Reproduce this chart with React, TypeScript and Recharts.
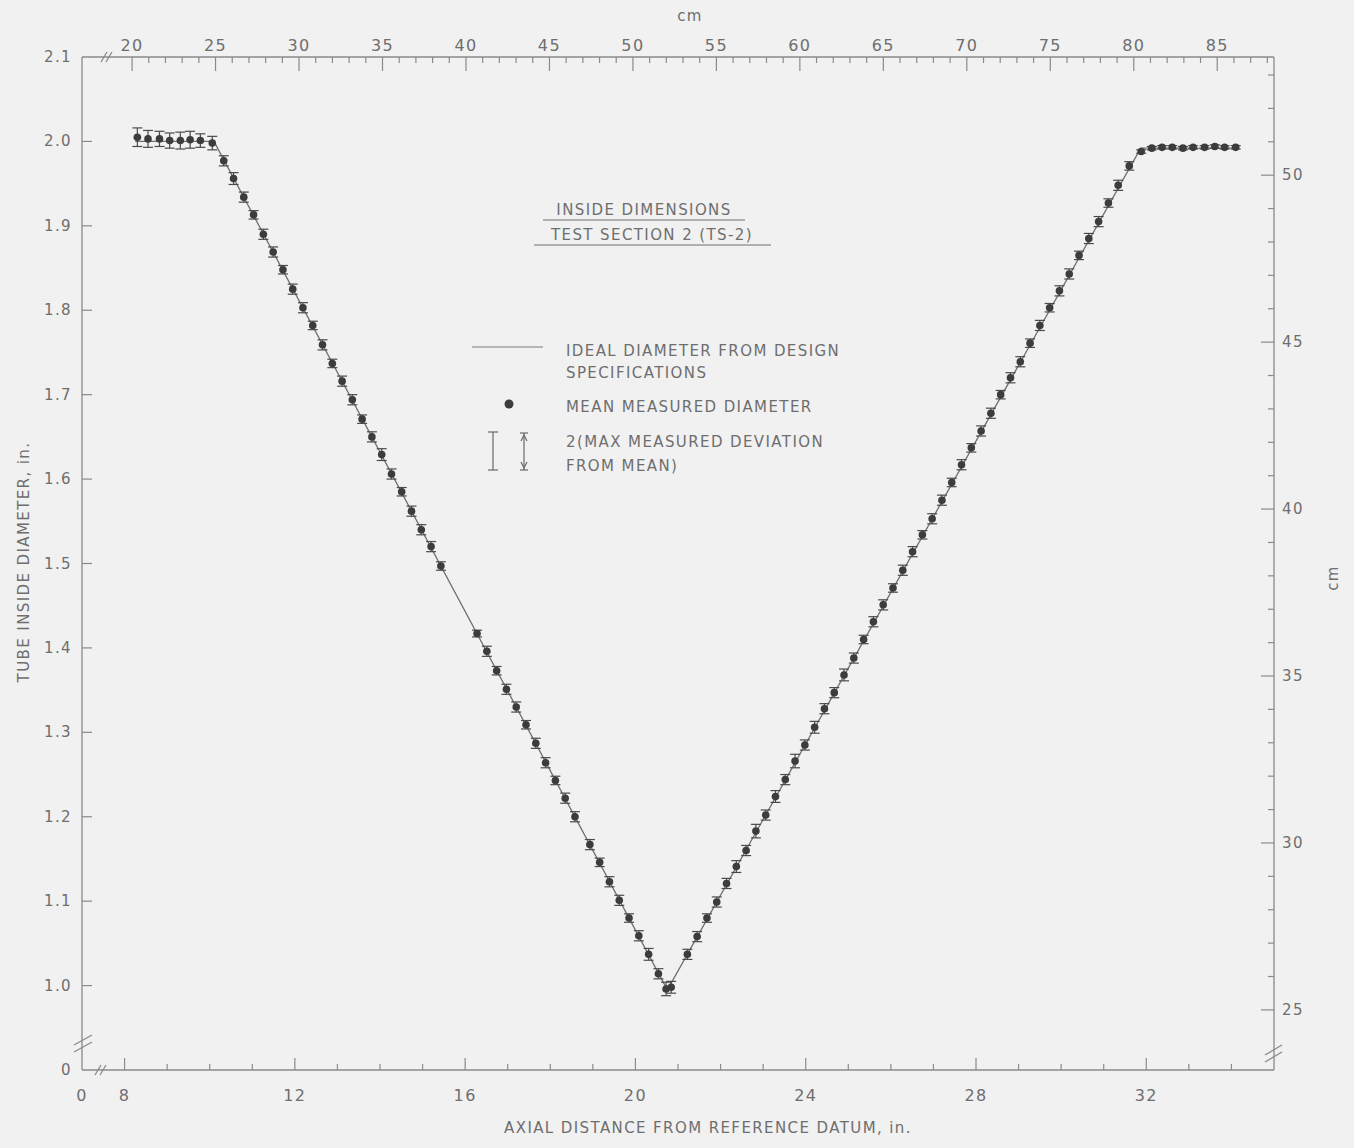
import { ComposedChart, Line, Scatter, ErrorBar, XAxis, YAxis } from 'recharts';

// Design profile of the tube bore (inches)
const idealAxial = [8.25, 10.1, 20.75, 31.87, 34.1];
const idealDiameter = [2.0, 2.0, 0.995, 1.992, 1.992];

// Mean measured diameter at each station (inches)
const measuredAxial = [
  8.3, 8.55, 8.82, 9.06, 9.31, 9.54, 9.78, 10.06,
  10.33, 10.56, 10.8, 11.03, 11.26, 11.49, 11.72, 11.95, 12.19, 12.42,
  12.65, 12.88, 13.11, 13.35, 13.58, 13.81, 14.04, 14.27, 14.51, 14.74,
  14.97, 15.2, 15.43, 16.28, 16.51, 16.74, 16.97, 17.2, 17.43, 17.66,
  17.89, 18.12, 18.35, 18.58, 18.93, 19.16, 19.39, 19.62, 19.85, 20.08,
  20.31, 20.54, 20.72, 20.84,
  21.22, 21.45, 21.68, 21.91, 22.14, 22.37, 22.6, 22.83, 23.06, 23.29,
  23.52, 23.75, 23.98, 24.21, 24.44, 24.67, 24.9, 25.13, 25.36, 25.59,
  25.82, 26.05, 26.28, 26.51, 26.74, 26.97, 27.2, 27.43, 27.66, 27.89,
  28.12, 28.35, 28.58, 28.81, 29.04, 29.27, 29.5, 29.73, 29.96, 30.19,
  30.42, 30.65, 30.88, 31.11, 31.34, 31.6,
  31.88, 32.13, 32.37, 32.61, 32.86, 33.1, 33.37, 33.61, 33.84, 34.1,
];
const measuredDiameter = [
  2.005, 2.003, 2.003, 2.001, 2.001, 2.002, 2.001, 1.998,
  1.977, 1.956, 1.934, 1.913, 1.89, 1.869, 1.848, 1.825, 1.803, 1.782,
  1.759, 1.737, 1.716, 1.694, 1.671, 1.65, 1.629, 1.606, 1.585, 1.562,
  1.54, 1.52, 1.497, 1.417, 1.396, 1.373, 1.351, 1.33, 1.309, 1.287,
  1.264, 1.243, 1.222, 1.2, 1.167, 1.146, 1.123, 1.101, 1.08, 1.059,
  1.037, 1.014, 0.996, 0.998,
  1.037, 1.058, 1.08, 1.099, 1.121, 1.141, 1.16, 1.183, 1.202, 1.224,
  1.244, 1.266, 1.285, 1.306, 1.328, 1.347, 1.368, 1.388, 1.41, 1.431,
  1.451, 1.471, 1.492, 1.514, 1.534, 1.553, 1.575, 1.596, 1.617, 1.637,
  1.657, 1.678, 1.7, 1.72, 1.739, 1.761, 1.782, 1.803, 1.823, 1.843,
  1.865, 1.885, 1.905, 1.927, 1.948, 1.971,
  1.988, 1.992, 1.993, 1.993, 1.992, 1.993, 1.993, 1.994, 1.993, 1.993,
];
// Max deviation from the mean at each station (inches)
const measuredDeviation = [
  0.011, 0.01, 0.009, 0.009, 0.01, 0.01, 0.008, 0.008,
  0.006, 0.007, 0.006, 0.005, 0.006, 0.006, 0.005, 0.006, 0.006, 0.005,
  0.006, 0.005, 0.006, 0.006, 0.005, 0.006, 0.007, 0.006, 0.005, 0.006,
  0.006, 0.006, 0.005, 0.004, 0.006, 0.005, 0.006, 0.006, 0.005, 0.006,
  0.006, 0.005, 0.006, 0.006, 0.006, 0.005, 0.006, 0.006, 0.005, 0.006,
  0.007, 0.006, 0.008, 0.007,
  0.006, 0.006, 0.005, 0.006, 0.006, 0.007, 0.006, 0.008, 0.006, 0.007,
  0.006, 0.008, 0.006, 0.007, 0.006, 0.006, 0.007, 0.006, 0.005, 0.006,
  0.006, 0.005, 0.006, 0.006, 0.005, 0.006, 0.006, 0.005, 0.006, 0.005,
  0.006, 0.006, 0.005, 0.006, 0.006, 0.005, 0.006, 0.005, 0.006, 0.006,
  0.005, 0.006, 0.006, 0.005, 0.006, 0.005,
  0.002, 0.002, 0.002, 0.002, 0.002, 0.002, 0.002, 0.002, 0.002, 0.002,
];

// Axis ticks; 7 in and 0.9 in sit at the broken origin and read "0"
const axialTicksIn = [7, 8, 9, 10, 11, 12, 13, 14, 15, 16, 17, 18, 19, 20, 21, 22, 23, 24, 25, 26, 27, 28, 29, 30, 31, 32, 33, 34];
const axialTicksCm = [
  20, 21, 22, 23, 24, 25, 26, 27, 28, 29, 30, 31, 32, 33, 34, 35, 36, 37, 38, 39, 40, 41, 42, 43, 44, 45, 46, 47, 48, 49,
  50, 51, 52, 53, 54, 55, 56, 57, 58, 59, 60, 61, 62, 63, 64, 65, 66, 67, 68, 69, 70, 71, 72, 73, 74, 75, 76, 77, 78, 79,
  80, 81, 82, 83, 84, 85, 86, 87, 88,
];
const diameterTicksIn = [0.9, 1.0, 1.1, 1.2, 1.3, 1.4, 1.5, 1.6, 1.7, 1.8, 1.9, 2.0, 2.1];
const diameterTicksMm = [25, 26, 27, 28, 29, 30, 31, 32, 33, 34, 35, 36, 37, 38, 39, 40, 41, 42, 43, 44, 45, 46, 47, 48, 49, 50, 51, 52, 53];

const ideal = idealAxial.map((x, i) => ({ x, d: idealDiameter[i] }));
const measured = measuredAxial.map((x, i) => ({ x, d: measuredDiameter[i], dev: measuredDeviation[i] }));

const toCm = (p: any) => p.x * 2.54;

const INK = '#8a8a8a';
const TEXT = '#6e6e6e';
const FONT = '"DejaVu Sans", "Liberation Sans", sans-serif';

const labelStyle = { fontFamily: FONT, fontSize: 15, fill: TEXT, letterSpacing: 1.4 };

function BottomTick(props: any) {
  const { x, y, payload } = props;
  const v = payload.value;
  if (v === 7) {
    return (
      <text x={x} y={y + 31} textAnchor="middle" style={{ ...labelStyle, fontSize: 16 }}>0</text>
    );
  }
  const major = v % 4 === 0;
  return (
    <g>
      <line x1={x} y1={y} x2={x} y2={y - (major ? 12 : 6)} stroke={INK} strokeWidth={1.2} />
      {major && (
        <text x={x} y={y + 31} textAnchor="middle" style={{ ...labelStyle, fontSize: 16 }}>{v}</text>
      )}
    </g>
  );
}

function TopTick(props: any) {
  const { x, y, payload } = props;
  const v = payload.value;
  const major = v % 5 === 0;
  return (
    <g>
      <line x1={x} y1={y} x2={x} y2={y + (major ? 14 : 6)} stroke={INK} strokeWidth={1.2} />
      {major && (
        <text x={x} y={y - 6} textAnchor="middle" style={{ ...labelStyle, fontSize: 16 }}>{v}</text>
      )}
    </g>
  );
}

function LeftTick(props: any) {
  const { x, y, payload } = props;
  const k = Math.round(payload.value * 10);
  const label = k === 9 ? '0' : (k / 10).toFixed(1);
  return (
    <g>
      {k > 9 && k < 21 && <line x1={x} y1={y} x2={x + 10} y2={y} stroke={INK} strokeWidth={1.2} />}
      <text x={x - 10} y={y + 5} textAnchor="end" style={labelStyle}>{label}</text>
    </g>
  );
}

function RightTick(props: any) {
  const { x, y, payload } = props;
  const v = payload.value;
  const major = v % 5 === 0;
  return (
    <g>
      <line x1={x} y1={y} x2={x - (major ? 13 : 6)} y2={y} stroke={INK} strokeWidth={1.2} />
      {major && (
        <text x={x + 8} y={y + 5} textAnchor="start" style={labelStyle}>{v}</text>
      )}
    </g>
  );
}

const Dot = (props: any) => <circle cx={props.cx} cy={props.cy} r={3.8} fill="#3c3c3c" />;

function Overlay() {
  const brk = { stroke: INK, strokeWidth: 1.3 };
  return (
    <svg width={1354} height={1148} style={{ position: 'absolute', left: 0, top: 0, pointerEvents: 'none' }}>
      {/* axis titles */}
      <text x={690} y={21} textAnchor="middle" style={labelStyle}>cm</text>
      <text x={708} y={1133} textAnchor="middle" style={labelStyle}>AXIAL DISTANCE FROM REFERENCE DATUM, in.</text>
      <text x={29} y={562} textAnchor="middle" transform="rotate(-90 29 562)" style={labelStyle}>TUBE INSIDE DIAMETER, in.</text>
      <text x={1338} y={578} textAnchor="middle" transform="rotate(-90 1338 578)" style={labelStyle}>cm</text>

      {/* title */}
      <text x={644} y={215} textAnchor="middle" style={labelStyle}>INSIDE DIMENSIONS</text>
      <line x1={543} y1={220} x2={745} y2={220} stroke={TEXT} strokeWidth={1} />
      <text x={652} y={240} textAnchor="middle" style={labelStyle}>TEST SECTION 2 (TS-2)</text>
      <line x1={534} y1={245} x2={771} y2={245} stroke={TEXT} strokeWidth={1} />

      {/* legend */}
      <line x1={472} y1={347} x2={543} y2={347} stroke="#7a7a7a" strokeWidth={1.2} />
      <text x={566} y={356} style={labelStyle}>IDEAL DIAMETER FROM DESIGN</text>
      <text x={566} y={378} style={labelStyle}>SPECIFICATIONS</text>
      <circle cx={509} cy={404} r={4.5} fill="#3c3c3c" />
      <text x={566} y={412} style={labelStyle}>MEAN MEASURED DIAMETER</text>
      <g stroke="#6a6a6a" strokeWidth={1.2}>
        <line x1={493} y1={432} x2={493} y2={470} />
        <line x1={488} y1={432} x2={498} y2={432} />
        <line x1={488} y1={470} x2={498} y2={470} />
        <line x1={524} y1={433} x2={524} y2={470} />
        <line x1={520} y1={433} x2={528} y2={433} />
        <line x1={520} y1={470} x2={528} y2={470} />
        <path d="M521 441 L524 435 L527 441 M521 462 L524 468 L527 462" fill="none" />
      </g>
      <text x={566} y={447} style={labelStyle}>2(MAX MEASURED DEVIATION</text>
      <text x={566} y={471} style={labelStyle}>FROM MEAN)</text>

      {/* scale breaks */}
      <line x1={101} y1={62} x2={107} y2={52} {...brk} />
      <line x1={106} y1={62} x2={112} y2={52} {...brk} />
      <line x1={95} y1={1075} x2={101} y2={1065} {...brk} />
      <line x1={100} y1={1075} x2={106} y2={1065} {...brk} />
      <line x1={74} y1={1045} x2={92} y2={1035} {...brk} />
      <line x1={74} y1={1052} x2={92} y2={1042} {...brk} />
      <line x1={1265} y1={1055} x2={1282} y2={1045} {...brk} />
      <line x1={1265} y1={1062} x2={1282} y2={1052} {...brk} />
    </svg>
  );
}

export default function App() {
  const axisLine = { stroke: INK, strokeWidth: 1.3 };
  return (
    <div style={{ position: 'absolute', left: 0, top: 0, width: 1354, height: 1148, background: '#f1f1f1' }}>
      <ComposedChart width={1354} height={1148} data={measured} margin={{ top: 0, right: 0, bottom: 0, left: 0 }}>
        <XAxis
          xAxisId="in"
          dataKey="x"
          type="number"
          domain={[7, 35]}
          ticks={axialTicksIn}
          interval={0}
          allowDataOverflow
          height={78}
          tickSize={0}
          tickMargin={0}
          tickLine={false}
          axisLine={axisLine}
          tick={BottomTick}
        />
        <XAxis
          xAxisId="cm"
          dataKey={toCm}
          orientation="top"
          type="number"
          domain={[17.0, 88.4]}
          ticks={axialTicksCm}
          interval={0}
          allowDataOverflow
          height={57}
          tickSize={0}
          tickMargin={0}
          tickLine={false}
          axisLine={axisLine}
          tick={TopTick}
        />
        <YAxis
          yAxisId="in"
          type="number"
          domain={[0.9, 2.1]}
          ticks={diameterTicksIn}
          interval={0}
          allowDataOverflow
          width={82}
          tickSize={0}
          tickMargin={0}
          tickLine={false}
          axisLine={axisLine}
          tick={LeftTick}
        />
        <YAxis
          yAxisId="mm"
          orientation="right"
          type="number"
          domain={[23.2, 53.54]}
          ticks={diameterTicksMm}
          interval={0}
          allowDataOverflow
          width={80}
          tickSize={0}
          tickMargin={0}
          tickLine={false}
          axisLine={axisLine}
          tick={RightTick}
        />
        <Line
          xAxisId="in"
          yAxisId="in"
          data={ideal}
          dataKey="d"
          type="linear"
          stroke="#6f6f6f"
          strokeWidth={1.3}
          dot={false}
          activeDot={false}
          isAnimationActive={false}
        />
        <Scatter
          xAxisId="in"
          yAxisId="in"
          data={measured}
          dataKey="d"
          shape={Dot}
          isAnimationActive={false}
        >
          <ErrorBar dataKey="dev" direction="y" width={5} stroke="#4a4a4a" strokeWidth={1.2} />
        </Scatter>
      </ComposedChart>
      <Overlay />
    </div>
  );
}
